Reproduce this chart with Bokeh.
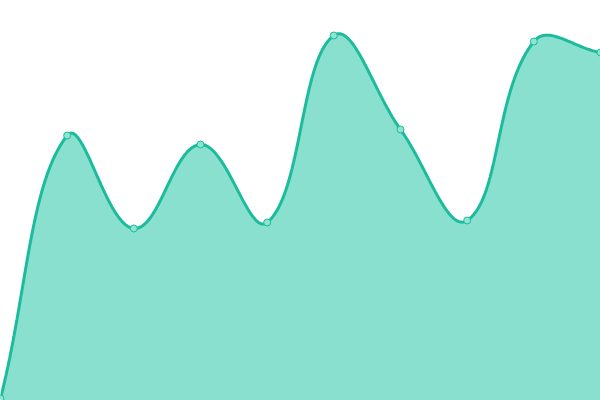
import numpy as np
from bokeh.plotting import figure
from bokeh.models import ColumnDataSource, Range1d
from bokeh.embed import file_html
from bokeh.resources import INLINE

# Data
categories = list(range(10))
values = [2, 265, 172, 256, 178, 365, 271, 180, 359, 348]

LINE_COLOR = "#1abc9c"
FILL_COLOR = "#8ae0cf"
MARKER_FILL = "#8ee3d1"

W, H = 600, 400
X_MIN, X_MAX = 0, 9
Y_MIN, Y_MAX = 0, 400
TENSION = 0.4


def spline_path(xs, ys, n=40):
    """Distance-weighted cardinal spline computed in screen space."""
    sx = W / (X_MAX - X_MIN)
    sy = H / (Y_MAX - Y_MIN)
    pts = np.column_stack([(np.asarray(xs, float) - X_MIN) * sx,
                           (np.asarray(ys, float) - Y_MIN) * sy])
    m = len(pts)
    prev_cp, next_cp = [], []
    for i in range(m):
        prv = pts[i - 1] if i > 0 else pts[i]
        cur = pts[i]
        nxt = pts[i + 1] if i < m - 1 else pts[i]
        d01 = np.hypot(*(cur - prv))
        d12 = np.hypot(*(nxt - cur))
        tot = d01 + d12
        s01 = d01 / tot if tot else 0
        s12 = d12 / tot if tot else 0
        fa = TENSION * s01
        fb = TENSION * s12
        pc = cur - fa * (nxt - prv)
        nc = cur + fb * (nxt - prv)
        pc = np.clip(pc, [0, 0], [W, H])
        nc = np.clip(nc, [0, 0], [W, H])
        prev_cp.append(pc)
        next_cp.append(nc)
    out = []
    for i in range(m - 1):
        p1, c1, c2, p2 = pts[i], next_cp[i], prev_cp[i + 1], pts[i + 1]
        t = np.linspace(0, 1, n, endpoint=(i == m - 2))[:, None]
        b = ((1 - t) ** 3) * p1 + 3 * ((1 - t) ** 2) * t * c1 + 3 * (1 - t) * t ** 2 * c2 + t ** 3 * p2
        out.append(b)
    arr = np.vstack(out)
    return arr[:, 0] / sx + X_MIN, arr[:, 1] / sy + Y_MIN


cx, cy = spline_path(categories, values)

p = figure(width=W, height=H, output_backend="svg", toolbar_location=None,
           x_range=Range1d(X_MIN, X_MAX), y_range=Range1d(Y_MIN, Y_MAX),
           min_border=0, min_border_left=0, min_border_right=0,
           min_border_top=0, min_border_bottom=0)
p.axis.visible = False
p.grid.visible = False
p.outline_line_color = None
p.background_fill_color = "white"
p.border_fill_color = "white"

curve = ColumnDataSource(dict(x=cx, y=cy, y0=np.full_like(cy, Y_MIN)))
p.varea(x="x", y1="y0", y2="y", source=curve, fill_color=FILL_COLOR, fill_alpha=1.0)
p.line(x="x", y="y", source=curve, line_color=LINE_COLOR, line_width=3)

pts = ColumnDataSource(dict(x=categories, y=values))
p.scatter(x="x", y="y", source=pts, size=7, fill_color=MARKER_FILL,
          line_color=LINE_COLOR, line_width=1)

open("out.html", "w").write(file_html(p, INLINE))
